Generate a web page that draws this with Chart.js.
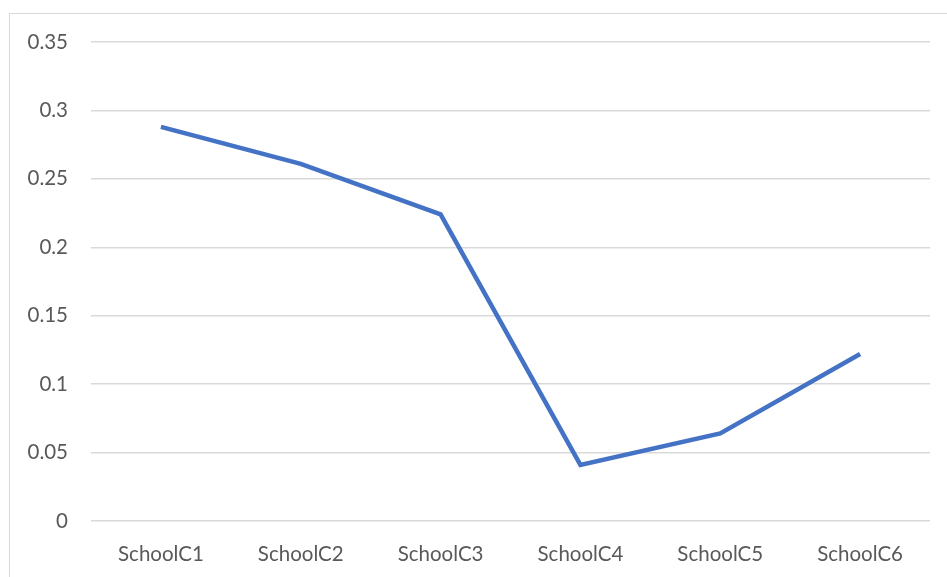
<!DOCTYPE html>
<html lang="en">
<head>
    <meta charset="UTF-8">
    <script src="https://cdn.jsdelivr.net/npm/chart.js"></script>
    <title>Schools</title>
    <style>
        body { margin: 0; background: #fff; }
        .frame { position: absolute; left: 9px; top: 13px; width: 1000px; height: 600px; border: 1px solid #d9d9d9; }
        .container { position: absolute; left: 0; top: 0; width: 947px; height: 577px; }
    </style>
</head>
<body>
    <div class="frame"></div>
    <div class="container">
        <canvas id="mychart" width="947" height="577"></canvas>
    </div>

    <script>
        // values
        let schools = ["SchoolC1", "SchoolC2", "SchoolC3", "SchoolC4", "SchoolC5", "SchoolC6"];
        let values = [0.288, 0.261, 0.224, 0.041, 0.064, 0.122];
        let yTicks = [0, 0.05, 0.1, 0.15, 0.2, 0.25, 0.3, 0.35];

        let font = { family: "Lato, 'Open Sans', sans-serif", size: 20.5 };

        let ctx = document.getElementById("mychart").getContext('2d');
        let chart = new Chart(ctx, {
            type: 'line',
            data: {
                labels: schools,
                datasets: [{
                    data: values,
                    borderColor: '#4472C4',
                    borderWidth: 4.5,
                    pointRadius: 0,
                    tension: 0,
                    fill: false
                }]
            },
            options: {
                responsive: false,
                animation: false,
                layout: { padding: { top: 42, right: 17, left: 0, bottom: 0 } },
                plugins: { legend: { display: false }, tooltip: { enabled: false } },
                scales: {
                    x: {
                        offset: true,
                        grid: { display: false },
                        border: { display: false },
                        ticks: { color: '#595959', font: font, padding: 13, maxRotation: 0 },
                        afterFit: s => { s.height = 56; }
                    },
                    y: {
                        min: 0,
                        max: 0.35,
                        afterBuildTicks: s => { s.ticks = yTicks.map(v => ({ value: v })); },
                        grid: { color: '#d9d9d9', lineWidth: 1.5, drawTicks: false },
                        border: { display: false },
                        ticks: {
                            color: '#595959', font: font, padding: 23,
                            callback: v => String(v)
                        },
                        afterFit: s => { s.width = 91; }
                    }
                }
            }
        });
    </script>
</body>
</html>
